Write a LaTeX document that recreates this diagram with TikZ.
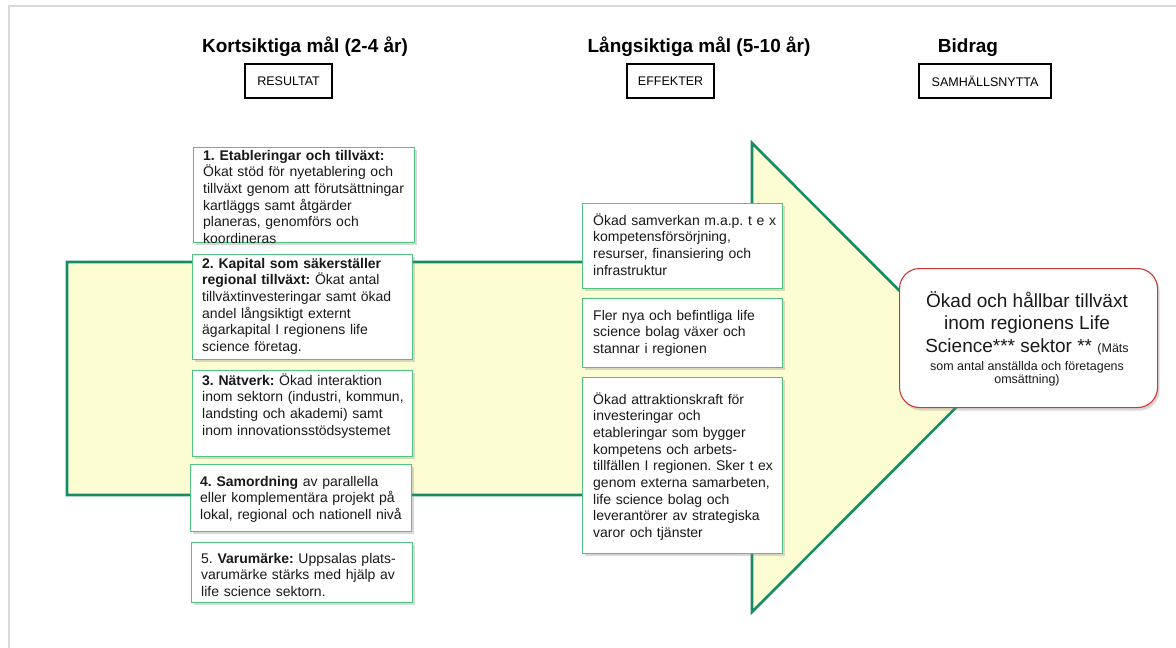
\documentclass[tikz,border=0pt]{standalone}
\usepackage{fontspec}
\setmainfont{Liberation Sans}
\frenchspacing
\usetikzlibrary{shadows}
\definecolor{arrowgreen}{RGB}{22,140,100}
\definecolor{arrowfill}{RGB}{253,253,212}
\definecolor{boxgreen}{RGB}{80,195,130}
\definecolor{boxred}{RGB}{205,55,55}
\definecolor{textc}{RGB}{25,25,25}
\tikzset{
  gbox/.style={draw=boxgreen, line width=1.1pt, fill=white, inner sep=0pt, anchor=north west,
    drop shadow={shadow xshift=2pt, shadow yshift=-2.5pt, opacity=0.3}},
  btxt/.style={anchor=base west, inner sep=0pt, text width=215pt, align=left,
    font=\fontsize{14}{16.7}\selectfont, text=textc},
  hbox/.style={draw=black, line width=2.2pt, fill=white, inner sep=0pt, anchor=north west,
    font=\fontsize{12.5}{14}\selectfont},
  htitle/.style={font=\bfseries\fontsize{19}{22}\selectfont, anchor=base, inner sep=0pt},
  rtxt/.style={anchor=base, inner sep=0pt, text=textc},
}
\begin{document}
\begin{tikzpicture}[x=1pt,y=-1pt]
\useasboundingbox (0,0) rectangle (1176,648);
\fill[white] (0,0) rectangle (1176,648);
% page edge
\draw[gray!30, line width=1.2pt] (9,648) -- (9,6) -- (1176,6);

% big arrow
\draw[arrowgreen, fill=arrowfill, line width=2.6pt, line join=miter]
  (67,262) -- (752,262) -- (752,143) -- (986,377.5) -- (752,612) -- (752,495) -- (67,495) -- cycle;

% headers
\node[htitle] (h1) at (305,52) {Kortsiktiga mål (2-4 år)};
\node[htitle] (h2) at (699,52) {Långsiktiga mål (5-10 år)};
\node[htitle] (h3) at (968,52) {Bidrag};
\node[hbox, minimum width=87pt, minimum height=34pt] (r1) at (244,63) {RESULTAT};
\node[hbox, minimum width=87pt, minimum height=34pt] (r2) at (626,63) {EFFEKTER};
\node[hbox, minimum width=132pt, minimum height=34pt] (r3) at (918,63) {SAMHÄLLSNYTTA};

% left column
\node[gbox, minimum width=221pt, minimum height=95pt] (b1) at (193,147) {};
\node[btxt] (t1) at (203,160) {\textbf{1. Etableringar och tillväxt:}\\Ökat stöd för nyetablering och\\tillväxt genom att förutsättningar\\kartläggs samt åtgärder\\planeras, genomförs och\\koordineras};

\node[gbox, minimum width=220pt, minimum height=105pt] (b2) at (192,254) {};
\node[btxt] (t2) at (202,268) {\textbf{2. Kapital som säkerställer}\\\textbf{regional tillväxt:} Ökat antal\\tillväxtinvesteringar samt ökad\\andel långsiktigt externt\\ägarkapital I regionens life\\science företag.};

\node[gbox, minimum width=220pt, minimum height=86pt] (b3) at (192,370) {};
\node[btxt] (t3) at (202,385) {\textbf{3. Nätverk:} Ökad interaktion\\inom sektorn (industri, kommun,\\landsting och akademi) samt\\inom innovationsstödsystemet};

\node[gbox, minimum width=221pt, minimum height=67pt] (b4) at (190,464) {};
\node[btxt] (t4) at (200,486) {\textbf{4. Samordning} av parallella\\eller komplementära projekt på\\lokal, regional och nationell nivå};

\node[gbox, minimum width=221pt, minimum height=60pt] (b5) at (191,542) {};
\node[btxt] (t5) at (201,563) {5. \textbf{Varumärke:} Uppsalas plats-\\varumärke stärks med hjälp av\\life science sektorn.};

% middle column
\node[gbox, minimum width=200pt, minimum height=85pt] (m1) at (582,203) {};
\node[btxt] (s1) at (593,225) {Ökad samverkan m.a.p. t e x\\kompetensförsörjning,\\resurser, finansiering och\\infrastruktur};

\node[gbox, minimum width=200pt, minimum height=69pt] (m2) at (582,298) {};
\node[btxt] (s2) at (593,320) {Fler nya och befintliga life\\science bolag växer och\\stannar i regionen};

\node[gbox, minimum width=200pt, minimum height=176pt] (m3) at (582,377) {};
\node[btxt] (s3) at (593,404) {Ökad attraktionskraft för\\investeringar och\\etableringar som bygger\\kompetens och arbets-\\tillfällen I regionen. Sker t ex\\genom externa samarbeten,\\life science bolag och\\leverantörer av strategiska\\varor och tjänster};

% result box
\node[draw=boxred, line width=1.1pt, fill=white, rounded corners=20pt, inner sep=0pt, anchor=north west,
  minimum width=258pt, minimum height=139pt,
  drop shadow={shadow xshift=2pt, shadow yshift=-3pt, opacity=0.3}] (rb) at (899,268) {};
\node[rtxt, font=\fontsize{19}{22}\selectfont] (l1) at (1027,307) {Ökad och hållbar tillväxt};
\node[rtxt, font=\fontsize{19}{22}\selectfont] (l2) at (1027,329) {inom regionens Life};
\node[rtxt, font=\fontsize{19}{22}\selectfont] (l3) at (1027,352) {Science*** sektor ** {\fontsize{12.5}{14}\selectfont (Mäts}};
\node[rtxt, font=\fontsize{12.5}{14}\selectfont] (l4) at (1027,370) {som antal anställda och företagens};
\node[rtxt, font=\fontsize{12.5}{14}\selectfont] (l5) at (1027,383) {omsättning)};
\end{tikzpicture}
\end{document}
